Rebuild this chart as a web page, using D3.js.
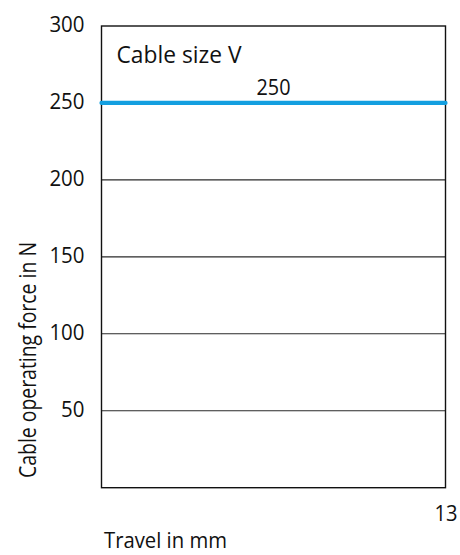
<!DOCTYPE html>
<html>
<head>
<meta charset="utf-8">
<script src="https://cdn.jsdelivr.net/npm/d3@7"></script>
<style>
  html, body { margin: 0; padding: 0; background: #fff; }
  text { font-family: "Open Sans", "Noto Sans", sans-serif; fill: #111; }
</style>
</head>
<body>
<svg id="chart" width="460" height="555"></svg>
<script>
// Data
const travel = [0, 13];
const force = [250, 250];
const seriesLabel = "Cable size V";
const valueLabel = "250";
const yTicks = [50, 100, 150, 200, 250, 300];
const xTickLabels = [13];
const xTitle = "Travel in mm";
const yTitle = "Cable operating force in N";

const svg = d3.select("#chart");
const plotLeft = 101.5, plotRight = 445.5, plotTop = 26, plotBottom = 487.7;

const x = d3.scaleLinear().domain([0, 13]).range([plotLeft, plotRight]);
const y = d3.scaleLinear().domain([0, 300]).range([plotBottom, plotTop]);

// gridlines
svg.append("g").selectAll("line")
  .data(yTicks.filter(d => d < 300))
  .join("line")
  .attr("x1", plotLeft).attr("x2", plotRight)
  .attr("y1", d => y(d)).attr("y2", d => y(d))
  .attr("stroke", "#2a2a2a").attr("stroke-width", 1.1);

// frame
svg.append("rect")
  .attr("x", plotLeft).attr("y", plotTop)
  .attr("width", plotRight - plotLeft).attr("height", plotBottom - plotTop)
  .attr("fill", "none").attr("stroke", "#111").attr("stroke-width", 1.4);

// y axis tick labels
const yAxis = d3.axisLeft(y).tickValues(yTicks).tickSize(0).tickPadding(17);
const gy = svg.append("g").attr("transform", `translate(${plotLeft},0)`).call(yAxis);
gy.select(".domain").remove();
gy.selectAll("text")
  .attr("font-family", "Open Sans, Noto Sans, sans-serif")
  .attr("font-size", 22).attr("fill", "#111").attr("dy", "0.27em")
  .attr("textLength", d => String(d).length * 11.7)
  .attr("lengthAdjust", "spacingAndGlyphs");

// x tick label
const xAxis = d3.axisBottom(x).tickValues(xTickLabels).tickSize(0).tickPadding(18);
const gx = svg.append("g").attr("transform", `translate(0,${plotBottom})`).call(xAxis);
gx.select(".domain").remove();
gx.selectAll("text")
  .attr("font-family", "Open Sans, Noto Sans, sans-serif")
  .attr("font-size", 22).attr("fill", "#111")
  .attr("textLength", 23).attr("lengthAdjust", "spacingAndGlyphs");

// series line
const line = d3.line().x((d, i) => x(travel[i])).y(d => y(d));
svg.append("path")
  .datum(force)
  .attr("d", line)
  .attr("fill", "none")
  .attr("stroke", "#139fe0")
  .attr("stroke-width", 4.2)
  .attr("stroke-linecap", "round");

// value label
svg.append("text")
  .attr("x", x(6.5)).attr("y", y(force[0]) - 8)
  .attr("text-anchor", "middle")
  .attr("font-size", 22)
  .attr("textLength", 34).attr("lengthAdjust", "spacingAndGlyphs")
  .text(valueLabel);

// series label
svg.append("text")
  .attr("x", plotLeft + 15).attr("y", 63)
  .attr("font-size", 23)
  .attr("textLength", 125).attr("lengthAdjust", "spacingAndGlyphs")
  .text(seriesLabel);

// x title
svg.append("text")
  .attr("x", 104).attr("y", 548)
  .attr("font-size", 22)
  .attr("textLength", 123).attr("lengthAdjust", "spacingAndGlyphs")
  .text(xTitle);

// y title
svg.append("text")
  .attr("transform", "translate(36,360) rotate(-90)")
  .attr("text-anchor", "middle")
  .attr("font-size", 23)
  .attr("textLength", 236).attr("lengthAdjust", "spacingAndGlyphs")
  .text(yTitle);
</script>
</body>
</html>
